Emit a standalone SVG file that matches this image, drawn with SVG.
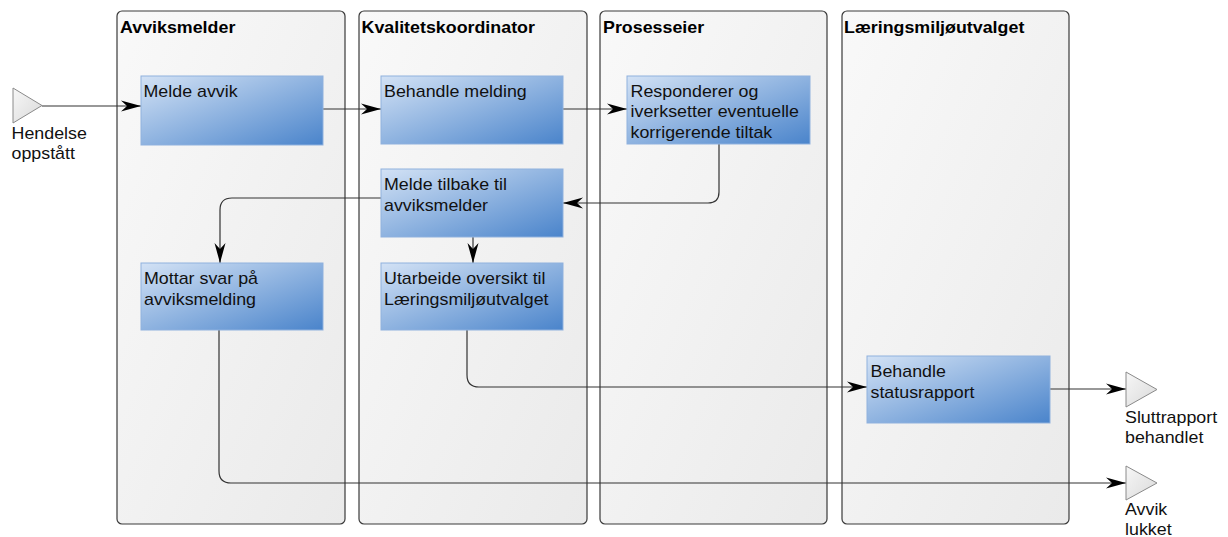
<svg xmlns="http://www.w3.org/2000/svg" width="1228" height="537" viewBox="0 0 1228 537">
<defs>
<linearGradient id="laneG" x1="0" y1="0" x2="1" y2="1">
<stop offset="0" stop-color="#f9f9f9"/>
<stop offset="1" stop-color="#eaeaea"/>
</linearGradient>
<linearGradient id="boxG" x1="0" y1="0" x2="1" y2="1">
<stop offset="0" stop-color="#d3e2f5"/>
<stop offset="1" stop-color="#4a84cb"/>
</linearGradient>
<linearGradient id="evG" x1="0" y1="0" x2="1" y2="1">
<stop offset="0" stop-color="#f7f7f7"/>
<stop offset="1" stop-color="#d9d9d9"/>
</linearGradient>
<marker id="arr" markerUnits="userSpaceOnUse" markerWidth="22" markerHeight="12" viewBox="-21 -6 22 12" refX="0" refY="0" orient="auto">
<path d="M0,0 L-20,-5.5 L-14,0 L-20,5.5 Z" fill="#000"/>
</marker>
</defs>
<style>
.lane{fill:url(#laneG);stroke:#3a3a3a;stroke-width:1.2}
.box{fill:url(#boxG);stroke:#8fb1de;stroke-width:1}
.ev{fill:url(#evG);stroke:#8a8a8a;stroke-width:1}
.title{font-family:"Liberation Sans",Arial,sans-serif;font-size:16px;font-weight:bold;fill:#000}
.lbl{font-family:"Liberation Sans",Arial,sans-serif;font-size:16px;fill:#111}
.con{fill:none;stroke:#333;stroke-width:1.2;marker-end:url(#arr)}
</style>
<rect width="1228" height="537" fill="#fff"/>

<g id="lane-avviksmelder">
<rect class="lane" x="117" y="11" width="228" height="513" rx="5"/>
<text class="title" transform="matrix(1.115 0 0 1 120 33)">Avviksmelder</text>
</g>
<g id="lane-kvalitetskoordinator">
<rect class="lane" x="359" y="11" width="228" height="513" rx="5"/>
<text class="title" transform="matrix(1.115 0 0 1 361.5 33)">Kvalitetskoordinator</text>
</g>
<g id="lane-prosesseier">
<rect class="lane" x="600" y="11" width="227" height="513" rx="5"/>
<text class="title" transform="matrix(1.115 0 0 1 603 33)">Prosesseier</text>
</g>
<g id="lane-laeringsmiljoutvalget">
<rect class="lane" x="842" y="11" width="227" height="513" rx="5"/>
<text class="title" transform="matrix(1.115 0 0 1 844 33)">Læringsmiljøutvalget</text>
</g>

<g id="connectors">
<path class="con" d="M42,106 L141,106"/>
<path class="con" d="M323,109 L381,109"/>
<path class="con" d="M563,109 L627,109"/>
<path class="con" d="M719,144 L719,192 Q719,203 708,203 L563,203"/>
<path class="con" d="M381,198 L232,198 Q220,198 220,210 L220,263"/>
<path class="con" d="M473,237 L473,263"/>
<path class="con" d="M467,330 L467,375 Q467,387 479,387 L867,387"/>
<path class="con" d="M1050,389 L1126,389"/>
<path class="con" d="M219,330 L219,471 Q219,483 231,483 L1126,483"/>
</g>

<g id="start-hendelse">
<path class="ev" d="M13,88 L42,105.5 L13,123 Z"/>
<text class="lbl" transform="matrix(1.115 0 0 1 11.5 139)"><tspan x="0" y="0">Hendelse</tspan><tspan x="0" y="20">oppstått</tspan></text>
</g>

<g id="melde-avvik">
<rect class="box" x="141" y="76" width="182" height="69"/>
<text class="lbl" transform="matrix(1.115 0 0 1 143.5 97)">Melde avvik</text>
</g>
<g id="behandle-melding">
<rect class="box" x="381" y="76" width="182" height="68"/>
<text class="lbl" transform="matrix(1.115 0 0 1 384 97)">Behandle melding</text>
</g>
<g id="responderer">
<rect class="box" x="627" y="76" width="183" height="68"/>
<text class="lbl" transform="matrix(1.115 0 0 1 630.5 97)"><tspan x="0" y="0">Responderer og</tspan><tspan x="0" y="20.5">iverksetter eventuelle</tspan><tspan x="0" y="41">korrigerende tiltak</tspan></text>
</g>
<g id="melde-tilbake">
<rect class="box" x="381" y="169" width="182" height="68"/>
<text class="lbl" transform="matrix(1.115 0 0 1 384 190)"><tspan x="0" y="0">Melde tilbake til</tspan><tspan x="0" y="21">avviksmelder</tspan></text>
</g>
<g id="mottar-svar">
<rect class="box" x="141" y="263" width="182" height="67"/>
<text class="lbl" transform="matrix(1.115 0 0 1 144 284)"><tspan x="0" y="0">Mottar svar på</tspan><tspan x="0" y="21">avviksmelding</tspan></text>
</g>
<g id="utarbeide-oversikt">
<rect class="box" x="381" y="263" width="182" height="67"/>
<text class="lbl" transform="matrix(1.115 0 0 1 384 284)"><tspan x="0" y="0">Utarbeide oversikt til</tspan><tspan x="0" y="21">Læringsmiljøutvalget</tspan></text>
</g>
<g id="behandle-statusrapport">
<rect class="box" x="867" y="356" width="183" height="67"/>
<text class="lbl" transform="matrix(1.115 0 0 1 870.5 377)"><tspan x="0" y="0">Behandle</tspan><tspan x="0" y="21">statusrapport</tspan></text>
</g>

<g id="end-sluttrapport">
<path class="ev" d="M1126,372 L1157,389.5 L1126,407 Z"/>
<text class="lbl" transform="matrix(1.115 0 0 1 1125 423)"><tspan x="0" y="0">Sluttrapport</tspan><tspan x="0" y="20">behandlet</tspan></text>
</g>
<g id="end-avvik-lukket">
<path class="ev" d="M1126,466 L1157,483 L1126,500 Z"/>
<text class="lbl" transform="matrix(1.115 0 0 1 1125 515)"><tspan x="0" y="0">Avvik</tspan><tspan x="0" y="20">lukket</tspan></text>
</g>
</svg>
